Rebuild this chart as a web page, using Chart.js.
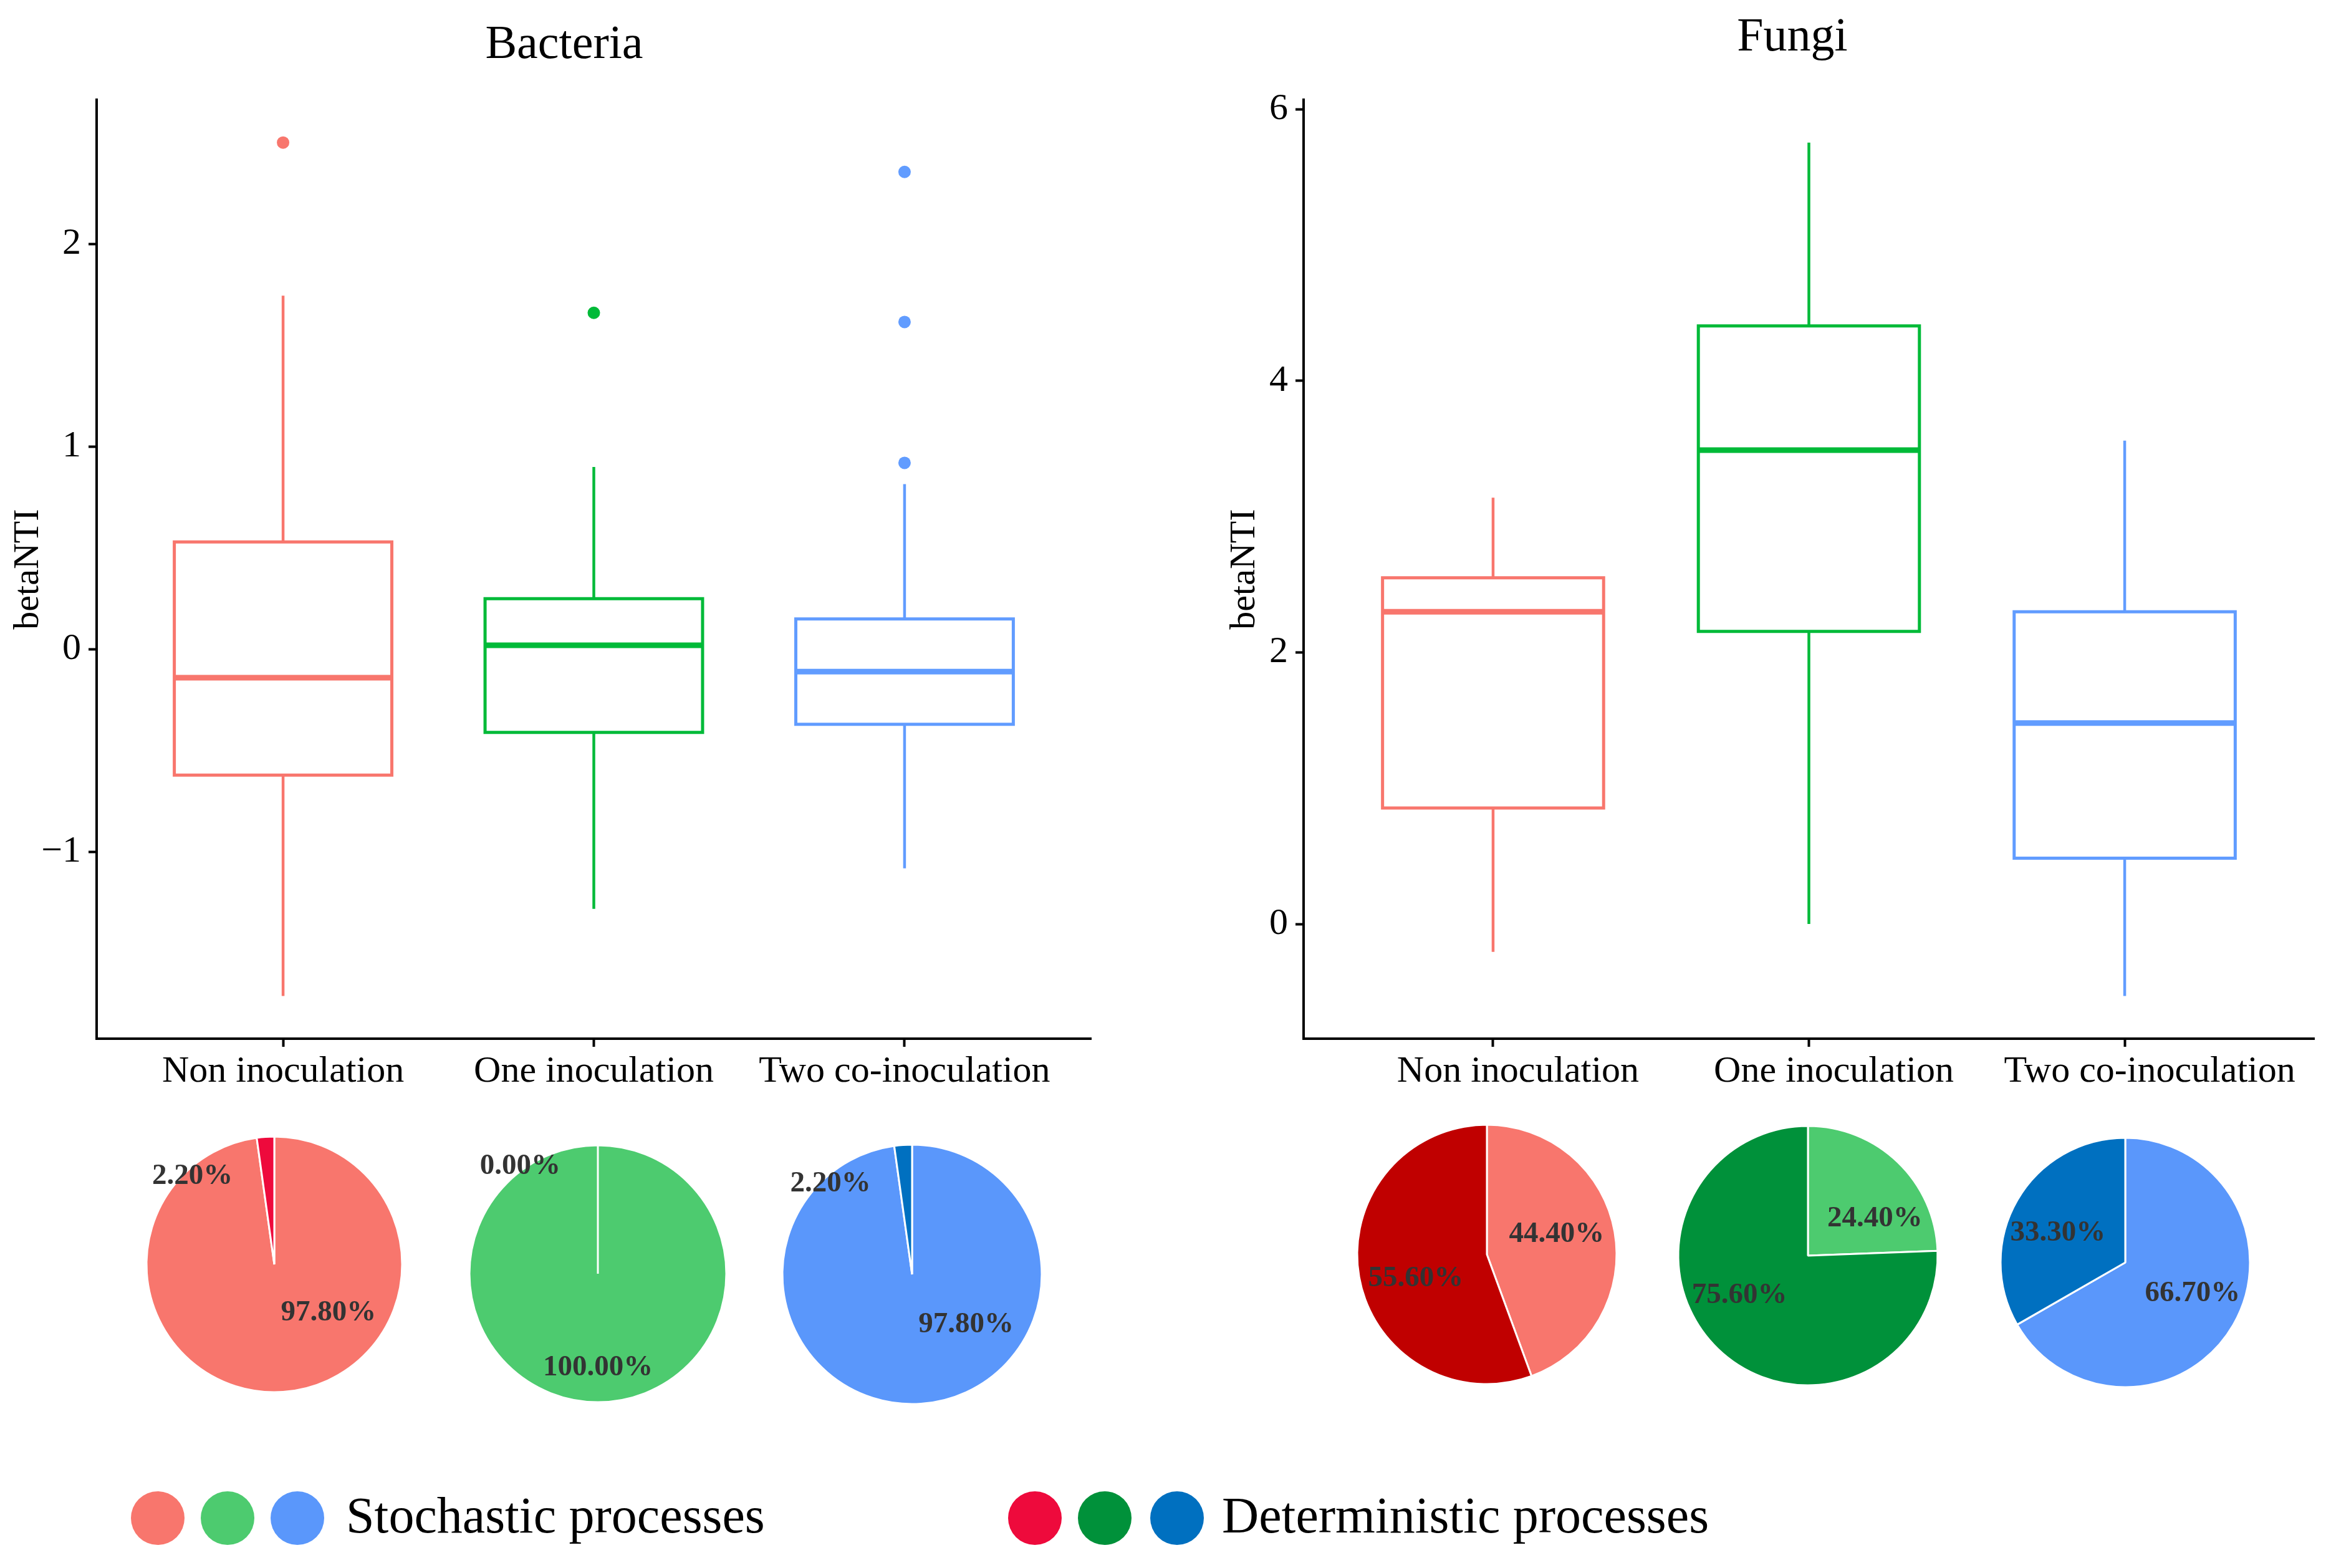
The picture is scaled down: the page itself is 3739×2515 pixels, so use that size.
<!DOCTYPE html>
<html>
<head>
<meta charset="utf-8">
<script src="https://cdn.jsdelivr.net/npm/chart.js@4.4.1/dist/chart.umd.min.js"></script>
<style>
  html, body { margin: 0; padding: 0; background: #fff; }
  body { position: relative; width: 3739px; height: 2515px; overflow: hidden; }
  canvas { position: absolute; }
  .dot { position: absolute; width: 86px; height: 86px; border-radius: 50%; }
  .key { position: absolute; font-family: "Liberation Serif", "Times New Roman", serif;
         font-size: 82px; line-height: 82px; color: #000; white-space: nowrap; }
</style>
</head>
<body>
<div class="dot" style="left:210px;top:2392px;background:#F8766D"></div>
<div class="dot" style="left:322px;top:2392px;background:#4DCB6F"></div>
<div class="dot" style="left:434px;top:2392px;background:#5A97FB"></div>
<div class="key" style="left:555px;top:2390px">Stochastic processes</div>
<div class="dot" style="left:1617px;top:2392px;background:#EE0A3C"></div>
<div class="dot" style="left:1729px;top:2392px;background:#00913A"></div>
<div class="dot" style="left:1845px;top:2392px;background:#0070C0"></div>
<div class="key" style="left:1960px;top:2390px">Deterministic processes</div>

<script>
const groups = ['Non inoculation', 'One inoculation', 'Two co-inoculation'];

// boxplot stats (betaNTI)
const bacLow = [-1.71, -1.28, -1.08];
const bacQ1 = [-0.62, -0.41, -0.37];
const bacMed = [-0.14, 0.02, -0.11];
const bacQ3 = [0.53, 0.25, 0.15];
const bacHigh = [1.745, 0.90, 0.815];
const bacOutliers = [[2.50], [1.66], [2.355, 1.615, 0.92]];
const bacTicks = [-1, 0, 1, 2];

const fungiLow = [-0.205, 0.0, -0.53];
const fungiQ1 = [0.855, 2.155, 0.485];
const fungiMed = [2.30, 3.49, 1.48];
const fungiQ3 = [2.55, 4.405, 2.30];
const fungiHigh = [3.14, 5.755, 3.56];
const fungiOutliers = [[], [], []];
const fungiTicks = [0, 2, 4, 6];

// pie shares (%)
const bacStoch = [97.8, 100.0, 97.8];
const bacDet = [2.2, 0.0, 2.2];
const fungiStoch = [44.4, 24.4, 66.7];
const fungiDet = [55.6, 75.6, 33.3];

const SERIF = '"Liberation Serif", "Times New Roman", serif';
Chart.defaults.font.family = SERIF;

const boxCols = ['#F8766D', '#00BA38', '#619CFF'];
const stochCols = ['#F8766D', '#4DCB6F', '#5A97FB'];
const bacDetCols = ['#EE0A3C', '#00913A', '#0070C0'];
const fungiDetCols = ['#C00000', '#00913A', '#0070C0'];

function makeCanvas(left, top, w, h) {
  const c = document.createElement('canvas');
  c.width = w; c.height = h;
  c.style.cssText = `left:${left}px;top:${top}px;width:${w}px;height:${h}px`;
  document.body.appendChild(c);
  return c;
}

function boxSets(low, q1, med, q3, high, outs) {
  const hw = 0.35, sets = [];
  groups.forEach((g, i) => {
    const x = i + 1, c = boxCols[i];
    const seg = (pts, w, cap) => ({
      data: pts, showLine: true, borderColor: c, borderWidth: w, pointRadius: 0,
      fill: false, tension: 0, borderCapStyle: cap || 'butt'
    });
    sets.push(seg([{x: x - hw, y: q1[i]}, {x: x + hw, y: q1[i]}, {x: x + hw, y: q3[i]},
                   {x: x - hw, y: q3[i]}, {x: x - hw, y: q1[i]}], 5, 'square'));
    sets.push(seg([{x: x, y: q3[i]}, {x: x, y: high[i]}], 4.5));
    sets.push(seg([{x: x, y: low[i]}, {x: x, y: q1[i]}], 4.5));
    sets.push(seg([{x: x - hw, y: med[i]}, {x: x + hw, y: med[i]}], 9));
    sets.push({data: outs[i].map(v => ({x: x, y: v})), pointRadius: 10,
               backgroundColor: c, borderWidth: 0});
  });
  return sets;
}

function paddedRange(low, high, outs) {
  const all = low.concat(high, outs.flat());
  const lo = Math.min(...all), hi = Math.max(...all), pad = (hi - lo) * 0.05;
  return [lo - pad, hi + pad];
}

function boxChart(canvas, title, titlePad, sets, range, ticks, yWidth, rightGap, xShift, yTitleTop) {
  new Chart(canvas, {
    type: 'scatter',
    data: {datasets: sets},
    options: {
      responsive: false,
      animation: false,
      layout: {padding: 0},
      plugins: {
        legend: {display: false},
        tooltip: {enabled: false},
        title: {display: true, text: title, color: '#000', padding: titlePad,
                font: {family: SERIF, size: 76, weight: 'normal'}}
      },
      scales: {
        x: {
          type: 'linear', min: 0.4, max: 3.6,
          afterBuildTicks: s => { s.ticks = groups.map((g, i) => ({value: i + 1})); },
          afterFit: s => { s.height = 104; },
          ticks: {callback: v => groups[v - 1], color: '#000', padding: 4, labelOffset: xShift,
                  autoSkip: false, maxRotation: 0, font: {family: SERIF, size: 60}},
          grid: {drawOnChartArea: false, tickLength: 13, tickColor: '#000', tickWidth: 4},
          border: {color: '#000', width: 4}
        },
        y: {
          min: range[0], max: range[1],
          afterBuildTicks: s => { s.ticks = ticks.map(v => ({value: v})); },
          afterFit: s => { s.width = yWidth; },
          ticks: {callback: v => v < 0 ? '\u2212' + Math.abs(v) : String(v), color: '#000',
                  padding: 12, font: {family: SERIF, size: 60}},
          grid: {drawOnChartArea: false, tickLength: 13, tickColor: '#000', tickWidth: 4},
          border: {color: '#000', width: 4},
          title: {display: true, text: 'betaNTI', color: '#000', padding: {top: yTitleTop, bottom: 0},
                  font: {family: SERIF, size: 58}}
        },
        // empty right-hand axis: only keeps blank space so the title sits where it should
        gap: {
          type: 'linear', position: 'right',
          grid: {display: false}, ticks: {display: false}, border: {display: false},
          afterFit: s => { s.width = rightGap; }
        }
      }
    }
  });
}

boxChart(makeCanvas(0, 0, 1810, 1770), 'Bacteria', {top: 27, bottom: 42},
         boxSets(bacLow, bacQ1, bacMed, bacQ3, bacHigh, bacOutliers),
         paddedRange(bacLow, bacHigh, bacOutliers), bacTicks, 155, 60, 0, 11);

boxChart(makeCanvas(1950, 0, 1850, 1770), 'Fungi', {top: 15, bottom: 54},
         boxSets(fungiLow, fungiQ1, fungiMed, fungiQ3, fungiHigh, fungiOutliers),
         paddedRange(fungiLow, fungiHigh, fungiOutliers), fungiTicks, 141, 88, 40, 12);

// percentage labels, placed by angle (deg clockwise from top) and fraction of radius
const pieLabels = {
  id: 'pieLabels',
  afterDatasetsDraw(chart, args, opts) {
    const ctx = chart.ctx;
    const meta = chart.getDatasetMeta(0);
    const vals = chart.data.datasets[0].data;
    ctx.save();
    ctx.font = 'bold 47px ' + SERIF;
    ctx.fillStyle = '#333';
    ctx.textAlign = 'center';
    ctx.textBaseline = 'middle';
    meta.data.forEach((arc, i) => {
      const [deg, frac] = opts.spots[i];
      const a = deg * Math.PI / 180, r = arc.outerRadius * frac;
      ctx.fillText(vals[i].toFixed(2) + '%', arc.x + Math.sin(a) * r, arc.y - Math.cos(a) * r);
    });
    ctx.restore();
  }
};

function pieChart(cx, cy, radius, stoch, det, cols, spots) {
  const size = 580;
  new Chart(makeCanvas(cx - size / 2, cy - size / 2, size, size), {
    type: 'pie',
    data: {
      labels: ['Stochastic processes', 'Deterministic processes'],
      datasets: [{data: [stoch, det], backgroundColor: cols, borderColor: '#fff', borderWidth: 3}]
    },
    options: {
      responsive: false,
      animation: false,
      radius: radius,
      plugins: {legend: {display: false}, tooltip: {enabled: false}, pieLabels: {spots: spots}}
    },
    plugins: [pieLabels]
  });
}

const bacPies = [
  {cx: 440, cy: 2028, r: 205, spots: [[132, 0.57], [317, 0.94]]},
  {cx: 959, cy: 2043, r: 206, spots: [[180, 0.73], [324, 1.03]]},
  {cx: 1463, cy: 2044, r: 208, spots: [[133, 0.57], [318, 0.94]]}
];
const fungiPies = [
  {cx: 2385, cy: 2012, r: 208, spots: [[74, 0.56], [251, 0.58]]},
  {cx: 2900, cy: 2014, r: 208, spots: [[61, 0.59], [240, 0.61]]},
  {cx: 3409, cy: 2025, r: 200, spots: [[115, 0.595], [293.5, 0.59]]}
];

bacPies.forEach((p, i) => pieChart(p.cx, p.cy, p.r, bacStoch[i], bacDet[i], [stochCols[i], bacDetCols[i]], p.spots));
fungiPies.forEach((p, i) => pieChart(p.cx, p.cy, p.r, fungiStoch[i], fungiDet[i], [stochCols[i], fungiDetCols[i]], p.spots));
</script>
</body>
</html>
